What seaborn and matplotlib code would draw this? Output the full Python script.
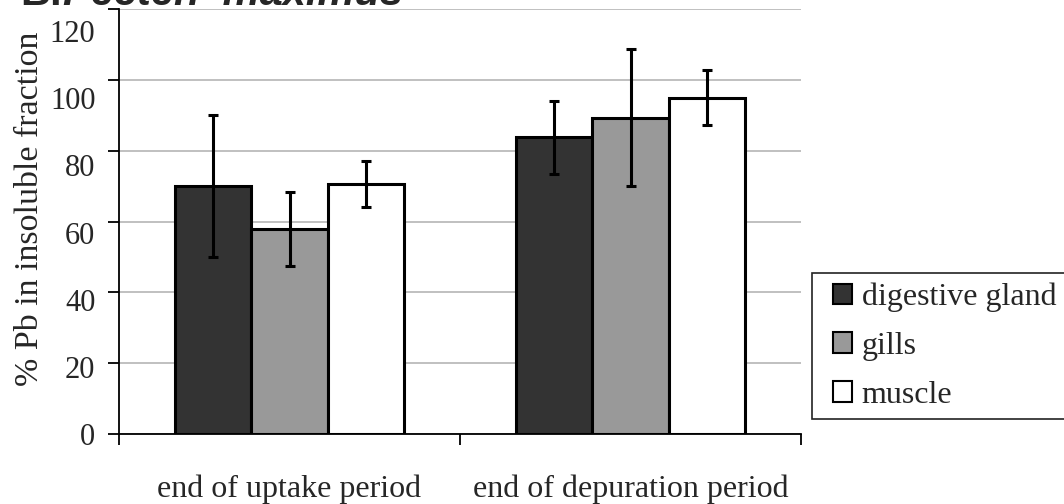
import pandas as pd
import matplotlib.pyplot as plt
import seaborn as sns
from matplotlib.legend_handler import HandlerPatch

# data
periods = ["end of uptake period", "end of depuration period"]
tissues = ["digestive gland", "gills", "muscle"]
pb_uptake = [70.0, 57.8, 70.6]
pb_depuration = [83.8, 89.3, 95.0]
err_uptake = [20.0, 10.5, 6.5]
err_depuration = [10.3, 19.4, 7.8]
y_ticks = [0, 20, 40, 60, 80, 100, 120]
tissue_colors = ["#333333", "#999999", "#ffffff"]

df = pd.DataFrame({
    "period": [periods[0]] * 3 + [periods[1]] * 3,
    "tissue": tissues * 2,
    "pb": pb_uptake + pb_depuration,
    "err": err_uptake + err_depuration,
})

sns.set_style("white")
plt.rcParams['font.family'] = ['Liberation Serif', 'DejaVu Serif']

fig = plt.figure(figsize=(10.64, 5.04), dpi=100)
ax = fig.add_axes([119 / 1064, 1 - 434 / 504, (801 - 119) / 1064, (434 - 9) / 504])

sns.barplot(data=df, x="period", y="pb", hue="tissue", hue_order=tissues,
            palette=tissue_colors, errorbar=None, width=0.67, saturation=1,
            edgecolor="black", linewidth=2.2, ax=ax, zorder=3)

# error bars at the centres of the bars seaborn drew
bars = [p for p in ax.patches if p.get_height() > 0]
bars.sort(key=lambda p: p.get_x())
xs = [b.get_x() + b.get_width() / 2 for b in bars]
ys = [b.get_height() for b in bars]
# bars sorted by x: uptake (dg, gills, muscle), then depuration
errs = err_uptake + err_depuration
ax.errorbar(xs, ys, yerr=errs, fmt="none", ecolor="black", elinewidth=2.2,
            capsize=3.8, capthick=2.2, zorder=4)

ax.set_xlim(-0.5, 1.5)
ax.set_ylim(0, 120)
ax.set_yticks(y_ticks)
ax.tick_params(axis="y", direction="out", length=8, width=1.3, color="black",
               left=True, labelleft=False)
ax.set_xticks([0, 1])
ax.set_xticks([-0.5, 0.5, 1.5], minor=True)
ax.tick_params(axis="x", which="major", length=0, labelsize=23, pad=29)
ax.tick_params(axis="x", which="minor", direction="out", length=8, width=1.3,
               color="black", bottom=True)
ax.set_xlabel("")

# tick numbers sit on a slightly compressed scale in the original
sec = ax.secondary_yaxis("left", functions=(lambda y: y / 0.948, lambda s: s * 0.948))
sec.set_yticks(y_ticks)
sec.tick_params(axis="y", length=0, labelsize=22, pad=17)
sec.spines["left"].set_visible(False)

ax.set_ylabel("% Pb in insoluble fraction", fontsize=24.5)
ax.yaxis.set_label_coords(-0.108, 0.529)

ax.yaxis.grid(True, color="#c0c0c0", linewidth=1.4, zorder=0)
ax.set_axisbelow(True)
for s in ["top", "right"]:
    ax.spines[s].set_visible(False)
for s in ["left", "bottom"]:
    ax.spines[s].set_color("black")
    ax.spines[s].set_linewidth(1.3)

handles, labels = ax.get_legend_handles_labels()
leg = ax.legend(handles, labels, loc="upper left",
                bbox_to_anchor=(812 / 1064, 1 - 273 / 504), bbox_transform=fig.transFigure,
                fontsize=23, frameon=True, fancybox=False, edgecolor="#222222",
                handlelength=0.95, handleheight=0.6, handletextpad=0.3,
                labelspacing=0.62, borderpad=0.3, borderaxespad=0, framealpha=1,
                handler_map={h: HandlerPatch(xpad=0.35) for h in handles})
leg.get_frame().set_linewidth(1.2)
for h in leg.legend_handles:
    h.set_edgecolor("black")
    h.set_linewidth(1.5)

fig.text(20 / 1064, 1 - 5 / 504, "B.", fontsize=30, fontweight="bold",
         family="Liberation Sans", va="baseline")
fig.text(63 / 1064, 1 - 5 / 504, "Pecten  maximus", fontsize=30, fontweight="bold",
         fontstyle="italic", family="Liberation Sans", va="baseline")

plt.savefig("out.png", dpi=100)
